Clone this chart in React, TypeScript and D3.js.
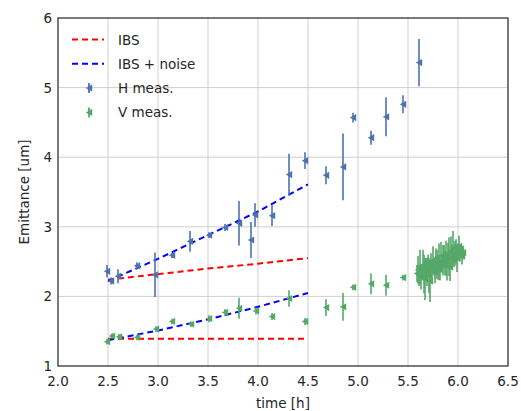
import React from "react";
import * as d3 from "d3";

// Horizontal emittance measurements: time [h], emittance [um], error [um]
const hTime = [2.49, 2.53, 2.6, 2.79, 2.97, 3.14, 3.32, 3.51, 3.67, 3.81, 3.93, 3.97, 4.14, 4.31, 4.47, 4.68, 4.85, 4.95, 5.13, 5.28, 5.45, 5.61];
const hEmit = [2.36, 2.22, 2.29, 2.44, 2.31, 2.59, 2.79, 2.88, 2.99, 3.05, 2.81, 3.17, 3.16, 3.75, 3.95, 3.74, 3.86, 4.57, 4.28, 4.58, 4.76, 5.36];
const hErr = [0.09, 0.05, 0.1, 0.05, 0.32, 0.04, 0.15, 0.04, 0.05, 0.32, 0.26, 0.17, 0.15, 0.3, 0.12, 0.13, 0.48, 0.07, 0.1, 0.28, 0.13, 0.34];

// Vertical emittance measurements
const vTime = [
  2.49, 2.54, 2.61, 2.79, 2.98, 3.14, 3.33, 3.51, 3.67, 3.81, 3.98, 4.14, 4.31, 4.47, 4.68, 4.85, 4.95, 5.13, 5.28, 5.45,
  5.59, 5.6, 5.61, 5.62, 5.63, 5.64, 5.65, 5.66, 5.67, 5.68, 5.69, 5.7, 5.71, 5.72, 5.73, 5.74, 5.75, 5.76, 5.77, 5.78,
  5.79, 5.8, 5.81, 5.82, 5.83, 5.84, 5.85, 5.86, 5.87, 5.88, 5.89, 5.9, 5.91, 5.92, 5.93, 5.94, 5.95, 5.96, 5.97, 5.98,
  5.99, 6.0, 6.01, 6.02, 6.03, 6.04, 6.05,
];
const vEmit = [
  1.35, 1.43, 1.42, 1.41, 1.53, 1.64, 1.6, 1.68, 1.77, 1.83, 1.79, 1.71, 1.97, 1.64, 1.84, 1.85, 2.13, 2.18, 2.16, 2.27,
  2.33, 2.38, 2.3, 2.42, 2.28, 2.36, 2.45, 2.32, 2.25, 2.4, 2.35, 2.48, 2.3, 2.22, 2.44, 2.38, 2.52, 2.4, 2.35, 2.47,
  2.55, 2.42, 2.5, 2.38, 2.58, 2.45, 2.52, 2.6, 2.48, 2.55, 2.43, 2.62, 2.57, 2.42, 2.66, 2.58, 2.7, 2.52, 2.62, 2.68,
  2.55, 2.64, 2.72, 2.6, 2.66, 2.58, 2.63,
];
const vErr = [
  0.04, 0.04, 0.04, 0.04, 0.04, 0.04, 0.04, 0.05, 0.05, 0.15, 0.05, 0.05, 0.12, 0.05, 0.12, 0.2, 0.04, 0.15, 0.15, 0.04,
  0.12, 0.2, 0.15, 0.25, 0.18, 0.1, 0.22, 0.28, 0.3, 0.15, 0.2, 0.12, 0.25, 0.3, 0.18, 0.14, 0.2, 0.1, 0.16, 0.22,
  0.12, 0.18, 0.26, 0.15, 0.2, 0.1, 0.22, 0.14, 0.18, 0.25, 0.2, 0.15, 0.28, 0.2, 0.2, 0.16, 0.24, 0.1, 0.18, 0.14,
  0.2, 0.12, 0.15, 0.1, 0.08, 0.12, 0.1,
];

// Model curves (time [h] -> emittance [um])
const modelTime = [2.5, 3.0, 3.5, 4.0, 4.5];
const ibsH = [2.24, 2.32, 2.4, 2.47, 2.55];
const ibsV = [1.39, 1.39, 1.39, 1.39, 1.39];
const noiseH = [2.22, 2.54, 2.88, 3.22, 3.61];
const noiseV = [1.37, 1.51, 1.67, 1.85, 2.05];

const xTicks = [2.0, 2.5, 3.0, 3.5, 4.0, 4.5, 5.0, 5.5, 6.0, 6.5];
const yTicks = [1, 2, 3, 4, 5, 6];

const W = 521;
const H = 411;
const margin = { left: 58, right: 13, top: 18, bottom: 45 };
const FONT = "DejaVu Sans, sans-serif";
const TEXT = "#262626";
const H_COLOR = "#4C72B0";
const V_COLOR = "#55A868";

const triangle = "M-3.2,0L3.2,-3.6L3.2,3.6Z";

export default function App() {
  const x = d3.scaleLinear().domain([2, 6.5]).range([margin.left, W - margin.right]);
  const y = d3.scaleLinear().domain([1, 6]).range([H - margin.bottom, margin.top]);
  const line = d3
    .line<[number, number]>()
    .x((d) => x(d[0]))
    .y((d) => y(d[1]));

  const curve = (vals: number[]) => line(modelTime.map((t, i) => [t, vals[i]] as [number, number])) || "";

  const points = (ts: number[], es: number[], errs: number[], color: string) =>
    ts.map((t, i) => (
      <g key={i}>
        <line x1={x(t)} x2={x(t)} y1={y(es[i] - errs[i])} y2={y(es[i] + errs[i])} stroke={color} strokeWidth={1.6} />
        <path d={triangle} transform={`translate(${x(t)},${y(es[i])})`} fill={color} />
      </g>
    ));

  const legendItems = [
    { label: "IBS", kind: "line", color: "#ff0000" },
    { label: "IBS + noise", kind: "line", color: "#0000ff" },
    { label: "H meas.", kind: "pt", color: H_COLOR },
    { label: "V meas.", kind: "pt", color: V_COLOR },
  ];

  return (
    <svg
      width={W}
      height={H}
      style={{ position: "fixed", left: 0, top: 0, background: "#fff" }}
      fontFamily={FONT}
    >
      <rect x={0} y={0} width={W} height={H} fill="#fff" />
      {/* grid */}
      {xTicks.map((t) => (
        <line key={"gx" + t} x1={x(t)} x2={x(t)} y1={y(1)} y2={y(6)} stroke="#cfcfcf" strokeWidth={1} />
      ))}
      {yTicks.map((t) => (
        <line key={"gy" + t} x1={x(2)} x2={x(6.5)} y1={y(t)} y2={y(t)} stroke="#cfcfcf" strokeWidth={1} />
      ))}

      {/* model curves */}
      <path d={curve(ibsH)} fill="none" stroke="#ff0000" strokeWidth={2} strokeDasharray="6,4" />
      <path d={curve(ibsV)} fill="none" stroke="#ff0000" strokeWidth={2} strokeDasharray="6,4" />
      <path d={curve(noiseH)} fill="none" stroke="#0000ff" strokeWidth={2} strokeDasharray="6,4" />
      <path d={curve(noiseV)} fill="none" stroke="#0000ff" strokeWidth={2} strokeDasharray="6,4" />

      {/* measurements */}
      {points(hTime, hEmit, hErr, H_COLOR)}
      {points(vTime, vEmit, vErr, V_COLOR)}

      {/* frame */}
      <rect
        x={x(2)}
        y={y(6)}
        width={x(6.5) - x(2)}
        height={y(1) - y(6)}
        fill="none"
        stroke="#333"
        strokeWidth={1.2}
      />

      {/* tick labels */}
      {xTicks.map((t) => (
        <text key={"tx" + t} x={x(t)} y={y(1) + 20} textAnchor="middle" fontSize={13.5} fill={TEXT}>
          {t.toFixed(1)}
        </text>
      ))}
      {yTicks.map((t) => (
        <text key={"ty" + t} x={x(2) - 6} y={y(t) + 5} textAnchor="end" fontSize={13.5} fill={TEXT}>
          {t}
        </text>
      ))}

      {/* axis labels */}
      <text x={(x(2) + x(6.5)) / 2} y={H - 3} textAnchor="middle" fontSize={13.5} fill={TEXT}>
        time [h]
      </text>
      <text
        transform={`translate(29,${(y(1) + y(6)) / 2}) rotate(-90)`}
        textAnchor="middle"
        fontSize={13.5}
        fill={TEXT}
      >
        Emittance [um]
      </text>

      {/* legend */}
      {legendItems.map((item, i) => {
        const ly = 39.5 + i * 24.3;
        return (
          <g key={item.label}>
            {item.kind === "line" ? (
              <line x1={72} x2={104} y1={ly} y2={ly} stroke={item.color} strokeWidth={2} strokeDasharray="6,4" />
            ) : (
              <g>
                <line x1={89} x2={89} y1={ly - 5} y2={ly + 5} stroke={item.color} strokeWidth={1.8} />
                <path d={triangle} transform={`translate(89,${ly})`} fill={item.color} />
              </g>
            )}
            <text x={118} y={ly + 5} fontSize={13.5} fill={TEXT}>
              {item.label}
            </text>
          </g>
        );
      })}
    </svg>
  );
}
